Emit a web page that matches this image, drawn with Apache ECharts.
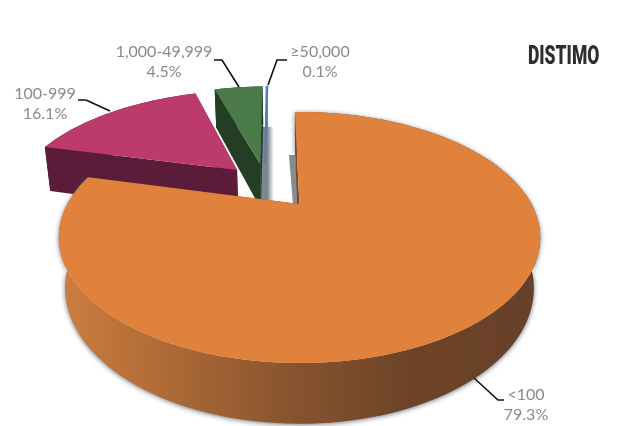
<!DOCTYPE html>
<html><head><meta charset="utf-8">
<style>html,body{margin:0;padding:0;background:#fff}#c{width:639px;height:426px}</style>
<script src="https://cdn.jsdelivr.net/npm/echarts@6/dist/echarts.min.js"></script>
</head><body><div id="c"></div>
<script>
// Data
const categories = ['<100', '100-999', '1,000-49,999', '≥50,000'];
const shares = [79.3, 16.1, 4.5, 0.1];
const shareLabels = ['79.3%', '16.1%', '4.5%', '0.1%'];
const brand = 'DISTIMO';

// Styles and layout
const startAngle = -1.3;
const explodeU = [0.006, -0.285, -0.18, -0.157];
const explodeV = [0, -0.316, -0.38, -0.38];
const topColors = ['#e0823b', '#bc3a6c', '#4a7a48', '#4d7fb5'];
const sideColors = [null, '#5a1c38', '#243e26', '#7b838c'];
const order = [30, 10, 15, 20];
const leaders = [
  [[474,378],[498,400],[504,400]],
  [[78,100],[86,100],[110,111]],
  [[214,60],[222,60],[239,87]],
  [[287,60],[277,60],[268,85]]
];
const labelX = [526, 45, 164, 320];
const labelY = [395, 94, 52, 52];
const lineGap = 19.5;
// perspective of the pie plane
const view = {ax:298, ay:204, A:232, B:116.6, C:50, k:0.267, m:0.025};
function proj(u, v, z) {
  const w = 1 - view.k * v + view.m * z;
  return [view.ax + view.A * u / w, view.ay + (view.B * v + view.C * z) / w];
}
const rad = d => d * Math.PI / 180;
const total = shares.reduce((a, b) => a + b, 0);

const chart = echarts.init(document.getElementById('c'), null, {renderer:'canvas'});
const wallFill = new echarts.graphic.LinearGradient(64, 0, 540, 0, [
  {offset:0, color:'#cc7d3e'},
  {offset:0.22, color:'#ad6a36'},
  {offset:0.46, color:'#8a5530'},
  {offset:0.72, color:'#6d4427'},
  {offset:1, color:'#68402a'}
], true);

function renderItem(params, api) {
  const i = params.dataIndex;
  let before = 0;
  for (let j = 0; j < i; j++) before += shares[j];
  const a0 = startAngle + before / total * 360;
  const a1 = a0 + api.value(0) / total * 360;
  const ou = explodeU[i], ov = explodeV[i];
  const pt = (deg, r, z) => proj(ou + r * Math.sin(rad(deg)), ov - r * Math.cos(rad(deg)), z);
  const steps = Math.max(2, Math.round((a1 - a0) / 2));
  const arc = z => {
    const out = [];
    for (let s = 0; s <= steps; s++) out.push(pt(a0 + (a1 - a0) * s / steps, 1, z));
    return out;
  };
  const top = arc(0), bottom = arc(1);
  const children = [];
  const z2 = order[i];
  const side = i === 0 ? '#7a4a28' : sideColors[i];
  // outer wall
  children.push({type:'polygon', z2:z2,
    shape:{points: top.concat(bottom.slice().reverse())},
    style:{fill: i === 0 ? wallFill : side,
      shadowBlur: i === 0 ? 5 : 0, shadowColor:'rgba(70,80,95,0.75)', shadowOffsetY: i === 0 ? 1 : 0}});
  // cut faces
  [a0, a1].forEach(a => {
    children.push({type:'polygon', z2:z2 + 1,
      shape:{points:[pt(a,0,0), pt(a,1,0), pt(a,1,1), pt(a,0,1)]},
      style:{fill: side}});
  });
  // top face
  children.push({type:'polygon', z2:z2 + 2,
    shape:{points:[proj(ou, ov, 0)].concat(top)},
    style:{fill: topColors[i], stroke: i === 3 ? topColors[i] : null, lineWidth: i === 3 ? 1.5 : 0}});
  // leader
  children.push({type:'polyline', z2:40,
    shape:{points: leaders[i]}, style:{stroke:'#111', lineWidth:1.6, fill:null}});
  // label
  children.push({type:'text', z2:41, style:{text:categories[i], x:labelX[i], y:labelY[i],
    align:'center', verticalAlign:'middle', fill:'#8a8a8a', font:'16px Lato'}});
  children.push({type:'text', z2:41, style:{text:shareLabels[i], x:labelX[i], y:labelY[i] + lineGap,
    align:'center', verticalAlign:'middle', fill:'#8a8a8a', font:'16px Lato'}});
  return {type:'group', children};
}

const stripFill = (c) => new echarts.graphic.LinearGradient(0, 0, 1, 0, [
  {offset:0, color:c}, {offset:0.6, color:c}, {offset:1, color:'rgba(130,138,148,0.15)'}]);

chart.setOption({
  animation:false,
  backgroundColor:'#fff',
  graphic:[
    {type:'rect', z:1, shape:{x:259, y:127, width:14, height:73}, style:{fill:stripFill('#7f8790')}},
    {type:'polygon', z:1, shape:{points:[[289,155],[295,155],[299,205],[293,205]]}, style:{fill:'#878c92'}},
    {type:'text', z:50, x:528, y:45, scaleX:0.7, style:{text:brand, fill:'#2e2e2e', font:'900 25px Roboto'}}
  ],
  series:[{
    type:'custom', coordinateSystem:'none', silent:true, clip:false,
    data: shares.map((v, i) => ({name:categories[i], value:[v]})),
    renderItem
  }]
});
</script></body></html>
